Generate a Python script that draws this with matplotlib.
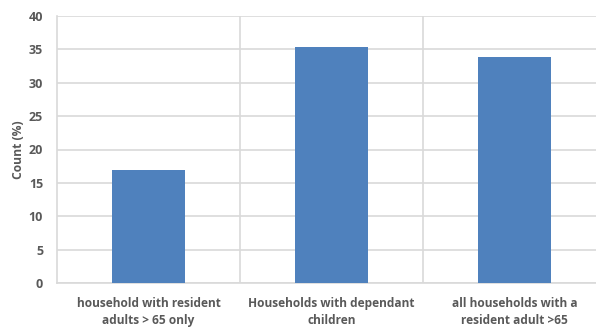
import matplotlib
matplotlib.use('Agg')
import matplotlib.pyplot as plt
import numpy as np

# Household groups and the share (%) in each
categories = ['household with resident\nadults > 65 only',
              'Households with dependant\nchildren',
              'all households with a\nresident adult >65']
values = [16.9, 35.4, 33.9]
yticks = [0, 5, 10, 15, 20, 25, 30, 35, 40]

text_col = '#595959'
grid_col = '#d9d9d9'

fig = plt.figure(figsize=(5.96, 3.27), dpi=100)
# plot area runs past the right edge of the figure
ax = fig.add_axes([57 / 596, 1 - 283 / 327, 549 / 596, 267 / 327])

x = np.arange(len(categories))
ax.bar(x, values, width=0.4, color='#4f81bd', zorder=3)

ax.set_xlim(-0.5, len(categories) - 0.5)
ax.set_ylim(0, 40)
ax.set_yticks(yticks)
ax.set_yticklabels([str(t) for t in yticks])
ax.set_xticks(x)
ax.set_xticklabels(categories)

# horizontal gridlines plus dividers between categories
ax.grid(axis='y', color=grid_col, linewidth=1.2, zorder=0)
for b in np.arange(0.5, len(categories) - 0.5, 1):
    ax.axvline(b, color=grid_col, linewidth=1.2, zorder=0)

for side in ['top', 'right']:
    ax.spines[side].set_visible(False)
ax.spines['left'].set_color(grid_col)
ax.spines['left'].set_linewidth(1.2)
ax.spines['bottom'].set_color(grid_col)
ax.spines['bottom'].set_linewidth(1.2)

ax.tick_params(axis='both', length=0, labelcolor=text_col)
ax.tick_params(axis='y', pad=10)
ax.tick_params(axis='x', pad=10)
for t in ax.get_yticklabels():
    t.set_fontfamily('Open Sans')
    t.set_fontweight('bold')
    t.set_fontsize(9)
for t in ax.get_xticklabels():
    t.set_fontfamily('Open Sans')
    t.set_fontweight('bold')
    t.set_fontsize(8.6)
    t.set_linespacing(1.45)

ax.set_ylabel('Count (%)', fontsize=8.7, fontweight='bold', family='Open Sans',
              color=text_col, labelpad=2.5)

plt.savefig('out.png', dpi=100)
